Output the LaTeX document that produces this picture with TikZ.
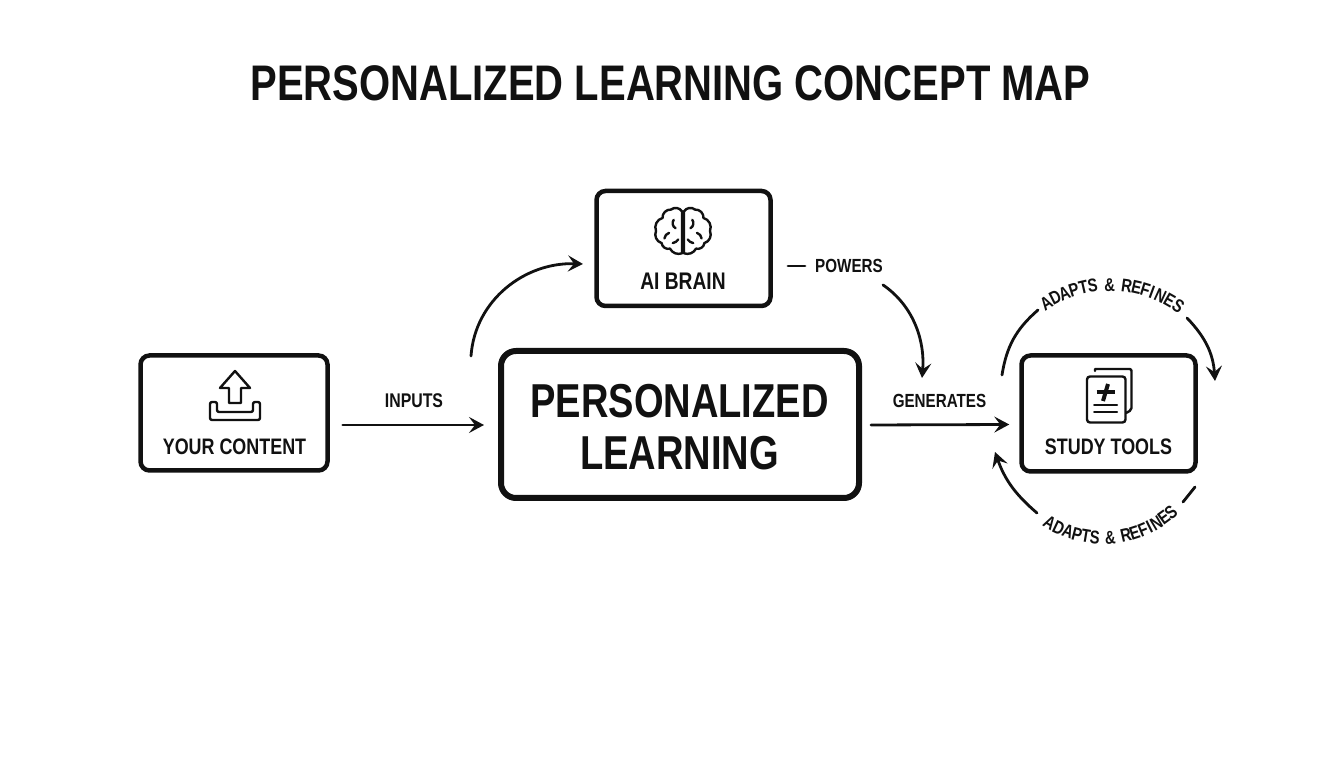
\documentclass[tikz,border=0pt]{standalone}
\usepackage{fontspec}
\setmainfont{Liberation Sans}[FakeStretch=0.8]
\usetikzlibrary{arrows.meta,calc}
\definecolor{ink}{HTML}{111111}
\tikzset{
  boxnode/.style={draw=ink,rectangle,rounded corners=9pt,line width=4.5pt,inner sep=0pt},
  smallbox/.style={boxnode,minimum width=174pt,minimum height=115pt},
  labeltext/.style={font=\fontsize{22.4}{26}\selectfont\bfseries,text=ink,inner sep=0pt},
  edgetext/.style={font=\fontsize{19}{22}\selectfont\bfseries,text=ink,inner sep=0pt},
  conn/.style={draw=ink,line width=2.8pt,line cap=round},
  arrowed/.style={conn,-{Stealth[length=15pt,width=16pt,inset=6pt]}},
  icon/.style={draw=ink,line width=2.4pt,line join=round,line cap=round},
  loopletter/.style={font=\fontsize{18.5}{20}\selectfont\bfseries,text=ink,inner sep=0pt,anchor=base},
}
\begin{document}
\begin{tikzpicture}[x=1pt,y=1pt]
\useasboundingbox[fill=white] (0,0) rectangle (1344,768);
\node[text=ink,inner sep=0pt,font=\fontsize{50}{56}\selectfont\bfseries] (title) at (670.5,685) {PERSONALIZED LEARNING CONCEPT MAP};
\node[smallbox,minimum width=187pt] (content) at (234,355) {};
\node[smallbox] (ai) at (683.5,519.5) {};
\node[smallbox,minimum height=116pt] (study) at (1108.5,354.5) {};
\node[boxnode,rounded corners=15pt,line width=6pt,minimum width=358pt,minimum height=147pt] (core) at (680,343.5) {};
\node[align=center,text=ink,inner sep=0pt,font=\fontsize{47.6}{52}\selectfont\bfseries] (corelabel) at (679.5,340.5) {PERSONALIZED\\LEARNING};
\node[labeltext] (contentlabel) at (234.5,321) {YOUR CONTENT};
\node[labeltext,font=\fontsize{24}{26}\selectfont\bfseries] (ailabel) at (683,487) {AI BRAIN};
\node[labeltext] (studylabel) at (1108.5,321.5) {STUDY TOOLS};
\node[edgetext,font=\fontsize{19.8}{22}\selectfont\bfseries] (inputs) at (414,367) {INPUTS};
\node[edgetext] (generates) at (939.5,367) {GENERATES};
\node[edgetext] (powers) at (849,502) {POWERS};
% connectors
\draw[arrowed] ([shift={(13,-12)}]content.east) -- ([shift={(-14,-0.5)}]core.west);
\draw[arrowed] ([shift={(9,-0.5)}]core.east) -- ([shift={(-10,-11)}]study.west);
\draw[arrowed] ([shift={(-27,-8)}]core.north west) .. controls ([shift={(-23,48)}]core.north west) and ([shift={(27,86)}]core.north west) .. ([shift={(-11.25,-15.5)}]ai.west);
\draw[conn] ([shift={(15.25,-17.5)}]ai.east) -- ([shift={(-10,0)}]powers.west);
\draw[arrowed] ([shift={(0,-12)}]powers.south east) .. controls ([shift={(32,-34)}]powers.south east) and ([shift={(42,-70)}]powers.south east) .. ([shift={(60,-30)}]core.north east);
% feedback loop
\coordinate (looptop) at (1110,363);
\coordinate (loopbottom) at (1103,334);
\draw[conn] ([shift={(-17.25,-21.75)}]study.north west) to[bend left=20] ([shift={(18.75,43.25)}]study.north west);
\draw[arrowed] ([shift={(-10.75,35.25)}]study.north east) to[bend left=20] ([shift={(17.25,-27.75)}]study.north east);
\draw[conn] ([shift={(-2.75,-13.25)}]study.south east) -- ([shift={(-14.75,-28.25)}]study.south east);
\draw[arrowed] ([shift={(17.75,-39.25)}]study.south west) to[bend left=15] ([shift={(-24.25,21.75)}]study.south west);
\foreach \ch/\ang in {A/122,D/117.1,A/112.3,P/107.5,T/102.8,S/98.3,\&/90.2,R/82,E/77.2,F/72.9,I/69.6,N/65.3,E/60.4,S/55.5}{
  \node[loopletter,rotate=\ang-90] at ($(looptop)+(\ang:114)$) {\ch};
}
\foreach \ch/\ang in {A/239,D/244.6,A/250.3,P/255.5,T/260.5,S/265.5,\&/274,R/282.8,E/287.8,F/292.8,I/296.6,N/301,E/306,S/311}{
  \node[loopletter,rotate=\ang+90] at ($(loopbottom)+(\ang:110)$) {\ch};
}
% upload icon
\draw[icon] (235,397) -- (220,380) -- (229,380) -- (229,365) -- (241,365) -- (241,380) -- (250,380) -- cycle;
\draw[icon,rounded corners=2pt] (210,366) -- (217,366) -- (217,356) -- (253,356) -- (253,366) -- (260,366) -- (260,348) -- (210,348) -- cycle;
% brain icon
\begin{scope}[shift={(683,537)},scale=0.93]
\foreach \s in {1,-1}{
\begin{scope}[xscale=\s]
\draw[icon] (-1,21) to[bend right=50] (-13,23) to[bend right=50] (-22,14) to[bend right=50] (-29,0) to[bend right=50] (-23,-13) to[bend right=50] (-14,-19) to[bend right=40] (-1,-24) -- cycle;
\draw[icon] (-10,12) to[bend right=50] (-8,3);
\draw[icon] (-15,-2) to[bend right=30] (-20,-8);
\draw[icon] (-5,-9) to[bend left=20] (-11,-13);
\end{scope}}
\end{scope}
% document icon
\draw[icon] (1095,397) -- (1095,399) [rounded corners=2pt] -- (1131.5,399) -- (1131.5,358) -- (1126,355);
\draw[icon,rounded corners=3pt,fill=white] (1087,391.5) rectangle (1125.5,345.5);
\draw[icon,line width=4pt,line cap=butt] (1096.5,375.5) -- (1115,375.5);
\draw[icon,line width=4pt,line cap=butt] (1108,384) -- (1103,367);
\draw[icon,line width=2pt] (1094,362.5) -- (1117,362.5);
\draw[icon,line width=2pt] (1094,355.5) -- (1117,355.5);
\end{tikzpicture}
\end{document}
